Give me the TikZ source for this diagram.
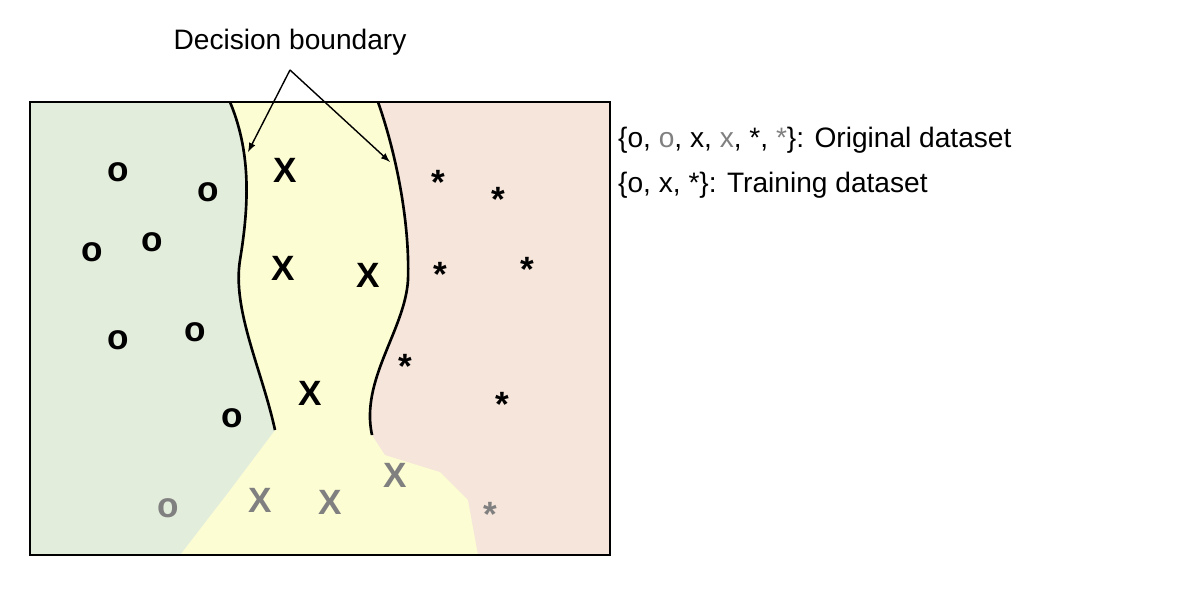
\documentclass[tikz,border=0pt]{standalone}
\usepackage{fontspec}
\setmainfont{Liberation Sans}
\definecolor{greenreg}{HTML}{E3EDDB}
\definecolor{yellowreg}{HTML}{FDFDD4}
\definecolor{pinkreg}{HTML}{F6E5DA}
\definecolor{greymark}{HTML}{808080}
\tikzset{
  pt/.style={font=\fontsize{20}{20}\selectfont\bfseries},
  greypt/.style={pt,text=greymark},
  legend/.style={font=\fontsize{16}{19}\selectfont,anchor=west}
}
\begin{document}
\begin{tikzpicture}[x=0.02cm,y=-0.02cm]
\useasboundingbox (0,0) rectangle (1186,588);
% regions
\fill[yellowreg] (30,102) rectangle (610,555);
\fill[greenreg] (30,102) -- (230,102) .. controls (250,150) and (250,200) .. (240,260) .. controls (232,310) and (262,370) .. (275,430) -- (230,490) -- (180,555) -- (30,555) -- cycle;
\fill[pinkreg] (378,102) -- (610,102) -- (610,555) -- (478,555) -- (468,500) -- (440,472) -- (385,455) -- (372,435) .. controls (360,380) and (405,330) .. (408,280) .. controls (410,220) and (395,150) .. (378,102) -- cycle;
% boundaries
\draw[line width=1.5pt] (230,102) .. controls (250,150) and (250,200) .. (240,260) .. controls (232,310) and (262,370) .. (275,430);
\draw[line width=1.5pt] (378,102) .. controls (395,150) and (410,220) .. (408,280) .. controls (405,330) and (360,380) .. (372,435);
\draw[line width=1.2pt] (30,102) rectangle (610,555);

\node (title) at (290,42) {\fontsize{16}{19}\selectfont Decision boundary};
\coordinate (tip) at (290,70);
\coordinate (left) at (248,152);
\coordinate (right) at (390,162);
\draw[-latex,thick] (tip) -- (left);
\draw[-latex,thick] (tip) -- (right);

\node[pt] (o1) at (118,172) {o};
\node[pt] (o2) at (208,192) {o};
\node[pt] (o3) at (92,252) {o};
\node[pt] (o4) at (152,242) {o};
\node[pt] (o5) at (118,340) {o};
\node[pt] (o6) at (195,332) {o};
\node[pt] (o7) at (232,418) {o};
\node[greypt] (o8) at (168,508) {o};

\node[pt] (x1) at (285,170) {X};
\node[pt] (x2) at (283,268) {X};
\node[pt] (x3) at (368,275) {X};
\node[pt] (x4) at (310,393) {X};
\node[greypt] (x5) at (260,500) {X};
\node[greypt] (x6) at (330,502) {X};
\node[greypt] (x7) at (395,475) {X};

\node[pt] (s1) at (438,182) {*};
\node[pt] (s2) at (498,199) {*};
\node[pt] (s3) at (440,274) {*};
\node[pt] (s4) at (527,269) {*};
\node[pt] (s5) at (405,366) {*};
\node[pt] (s6) at (502,404) {*};
\node[greypt] (s7) at (490,514) {*};

\node[legend] (orig) at (612,140) {\{o, \textcolor{greymark}{o}, x, \textcolor{greymark}{x}, *, \textcolor{greymark}{*}\}: Original dataset};
\node[legend] (train) at (612,185) {\{o, x, *\}: Training dataset};
\end{tikzpicture}
\end{document}
